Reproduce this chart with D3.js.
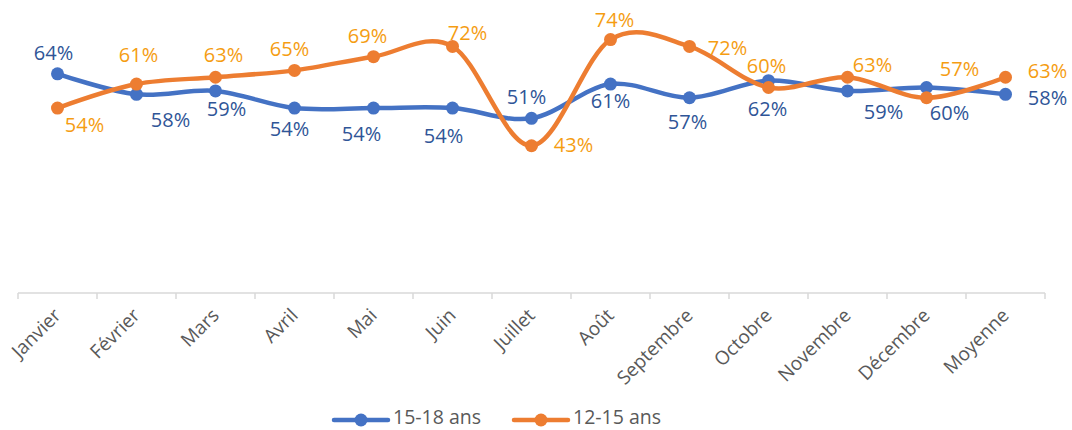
<!DOCTYPE html>
<html><head><meta charset="utf-8">
<script src="https://cdn.jsdelivr.net/npm/d3@7"></script>
<style>body{margin:0;background:#fff}svg{display:block}</style>
</head><body>
<svg id="c" width="1072" height="430"></svg>
<script>
const categories = ["Janvier","Février","Mars","Avril","Mai","Juin","Juillet","Août","Septembre","Octobre","Novembre","Décembre","Moyenne"];
const s1518 = [64,58,59,54,54,54,51,61,57,62,59,60,58];
const s1215 = [54,61,63,65,69,72,43,74,72,60,63,57,63];
const seriesNames = ["15-18 ans","12-15 ans"];

// label offsets [dx, dy] relative to point (layout only)
const off1518 = [[-4,-19],[34,27],[11,20],[-5,23],[-12,28],[-9,30],[-5,-20],[0,19],[-2,26],[-1,30],[36,23],[23,27],[42,5]];
const off1215 = [[27,19],[2,-27],[8,-21],[-5,-20],[-6,-19],[15,-12],[42,1],[4,-18],[38,3],[-2,-20],[25,-11],[33,-27],[42,-5]];

const svg = d3.select("#c");
const mLeft = 18, mRight = 1045, axisY = 293, mTop = 19;
const x = d3.scaleBand().domain(categories).range([mLeft, mRight]);
const y = d3.scaleLinear().domain([0, 80]).range([axisY, mTop]);
const cx = c => x(c) + x.bandwidth()/2;

// axis
const ax = svg.append("g").attr("transform", `translate(0,${axisY})`);
ax.append("line").attr("x1", mLeft).attr("x2", mRight).attr("stroke", "#d9d9d9").attr("stroke-width", 1.5);
const tickXs = categories.map(c => x(c)).concat([mRight]);
ax.selectAll("line.t").data(tickXs).enter().append("line").attr("class","t")
  .attr("x1", d => d).attr("x2", d => d).attr("y1", 0).attr("y2", 6)
  .attr("stroke", "#d9d9d9").attr("stroke-width", 1.5);
ax.selectAll("text").data(categories).enter().append("text")
  .attr("transform", d => `translate(${cx(d)+1},${20}) rotate(-45)`)
  .attr("text-anchor", "end").attr("dominant-baseline", "middle")
  .attr("font-family", "Open Sans, sans-serif").attr("font-size", 19)
  .attr("fill", "#595959").text(d => d);

const line = d3.line().x((d,i) => cx(categories[i])).y(d => y(d)).curve(d3.curveCardinal.tension(0));

function drawSeries(vals, color, labelColor, offs) {
  const g = svg.append("g");
  g.append("path").datum(vals).attr("d", line).attr("fill", "none")
    .attr("stroke", color).attr("stroke-width", 4.5).attr("stroke-linecap","round");
  g.selectAll("circle").data(vals).enter().append("circle")
    .attr("cx", (d,i) => cx(categories[i])).attr("cy", d => y(d)).attr("r", 6.5).attr("fill", color);
  return {g, vals, labelColor, offs};
}
const a = drawSeries(s1518, "#4472C4", "#2F5597", off1518);
const b = drawSeries(s1215, "#ED7D31", "#F59D12", off1215);
[a, b].forEach(s => {
  svg.append("g").selectAll("text").data(s.vals).enter().append("text")
    .attr("x", (d,i) => cx(categories[i]) + s.offs[i][0])
    .attr("y", (d,i) => y(d) + s.offs[i][1])
    .attr("text-anchor", "middle").attr("dominant-baseline", "middle")
    .attr("font-family", "Open Sans, sans-serif").attr("font-size", 20)
    .attr("fill", s.labelColor).text(d => d + "%");
});

// legend
const leg = svg.append("g");
const legItems = [{n: seriesNames[0], c: "#4472C4", x: 334}, {n: seriesNames[1], c: "#ED7D31", x: 514}];
legItems.forEach(it => {
  leg.append("line").attr("x1", it.x).attr("x2", it.x + 54).attr("y1", 420).attr("y2", 420)
    .attr("stroke", it.c).attr("stroke-width", 4.5).attr("stroke-linecap","round");
  leg.append("circle").attr("cx", it.x + 27).attr("cy", 420).attr("r", 6.5).attr("fill", it.c);
  leg.append("text").attr("x", it.x + 59).attr("y", 419).attr("dominant-baseline","middle")
    .attr("font-family", "Open Sans, sans-serif").attr("font-size", 19.5).attr("fill", "#595959").text(it.n);
});
</script>
</body></html>
